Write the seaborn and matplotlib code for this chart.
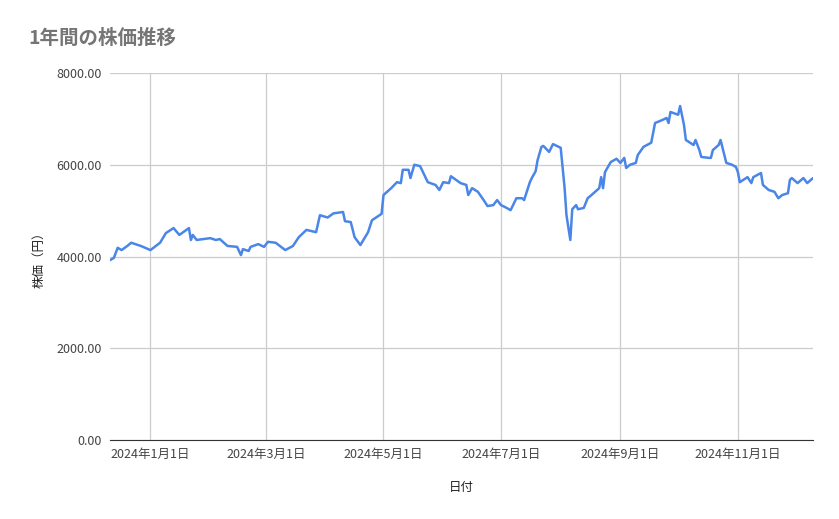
import pandas as pd
import numpy as np
import matplotlib
matplotlib.use("Agg")
import matplotlib.pyplot as plt
import matplotlib.dates as mdates
from matplotlib.ticker import FuncFormatter
import seaborn as sns

# days since 2024-01-01, price
day = [-21, -19, -17, -15, -12, -10, -5, 0, 5, 8, 12, 15, 20, 21, 22, 24, 31, 34, 36, 40,
       45, 47, 48, 51, 52, 56, 59, 61, 65, 70, 74, 77, 81, 86, 88, 92, 95, 100, 101, 104,
       106, 109, 113, 115, 120, 121, 125, 128, 130, 131, 134, 135, 137, 140, 144, 148, 150, 152, 155, 156,
       161, 164, 165, 167, 170, 173, 175, 178, 180, 182, 184, 187, 190, 193, 194, 197, 198, 200, 201, 203,
       204, 207, 209, 211, 213, 215, 216, 218, 219, 221, 222, 225, 227, 229, 233, 234, 235, 236, 239, 242,
       244, 246, 247, 249, 252, 253, 256, 260, 262, 266, 268, 269, 270, 274, 275, 277, 278, 282, 283, 285,
       286, 290, 291, 292, 295, 296, 298, 299, 302, 304, 305, 306, 310, 312, 313, 317, 318, 321, 324, 326,
       328, 331, 332, 333, 336, 339, 341, 344]
price = [3920, 3970, 4190, 4140, 4230, 4300, 4230, 4140, 4300, 4510, 4620, 4470, 4620, 4360, 4470, 4360, 4400, 4360, 4380, 4230,
         4210, 4030, 4160, 4120, 4210, 4270, 4210, 4320, 4300, 4140, 4230, 4420, 4580, 4530, 4900, 4850, 4940, 4970, 4770, 4750,
         4420, 4250, 4530, 4790, 4930, 5340, 5490, 5620, 5600, 5890, 5890, 5710, 6000, 5970, 5620, 5560, 5450, 5620, 5600, 5750,
         5600, 5560, 5340, 5490, 5410, 5230, 5100, 5120, 5230, 5120, 5080, 5010, 5270, 5270, 5230, 5620, 5710, 5860, 6100, 6390,
         6410, 6280, 6450, 6410, 6370, 5510, 4900, 4360, 5030, 5120, 5030, 5060, 5270, 5340, 5490, 5730, 5490, 5840, 6060, 6130,
         6040, 6150, 5930, 6000, 6040, 6210, 6390, 6480, 6910, 6980, 7020, 6910, 7150, 7090, 7280, 6870, 6540, 6430, 6540, 6320,
         6170, 6150, 6150, 6320, 6430, 6540, 6210, 6040, 6000, 5950, 5840, 5620, 5730, 5600, 5730, 5820, 5560, 5450, 5410, 5270,
         5340, 5380, 5670, 5710, 5600, 5710, 5600, 5710]
tick_dates = ["2024-01-01", "2024-03-01", "2024-05-01", "2024-07-01", "2024-09-01", "2024-11-01"]
tick_labels = ["2024年1月1日", "2024年3月1日", "2024年5月1日", "2024年7月1日", "2024年9月1日", "2024年11月1日"]

df = pd.DataFrame({"日付": pd.Timestamp("2024-01-01") + pd.to_timedelta(day, unit="D"), "株価": price})

sns.set_style("white")
plt.rcParams['font.family'] = ['Noto Sans CJK JP', 'DejaVu Sans']

fig = plt.figure(figsize=(8.39, 5.19), dpi=100)
ax = fig.add_axes([110/839, 79/519, 703/839, 367/519])
sns.lineplot(data=df, x="日付", y="株価", ax=ax, color="#4a86e8", linewidth=1.8)

ax.set_ylim(0, 8000)
ax.set_yticks([0, 2000, 4000, 6000, 8000])
ax.yaxis.set_major_formatter(FuncFormatter(lambda v, p: f"{v:.2f}"))
ax.set_xlim(df["日付"].iloc[0], df["日付"].iloc[-1])
ax.set_xticks(pd.to_datetime(tick_dates))
ax.set_xticklabels(tick_labels)
ax.grid(True, color="#cccccc", linewidth=0.9)
for s in ["top", "right", "left"]:
    ax.spines[s].set_visible(False)
ax.spines["bottom"].set_color("#333333")
ax.tick_params(axis="both", length=0, labelsize=9, colors="#444444", pad=6)
ax.set_xlabel("日付", fontsize=9, color="#222222", labelpad=14)
ax.set_ylabel("株価（円）", fontsize=9, color="#222222", labelpad=8)
fig.text(28/839, 1 - 38/519, "1年間の株価推移", fontsize=14, color="#757575", fontweight="bold", va="center")

fig.savefig("out.png", dpi=100, facecolor="white")
